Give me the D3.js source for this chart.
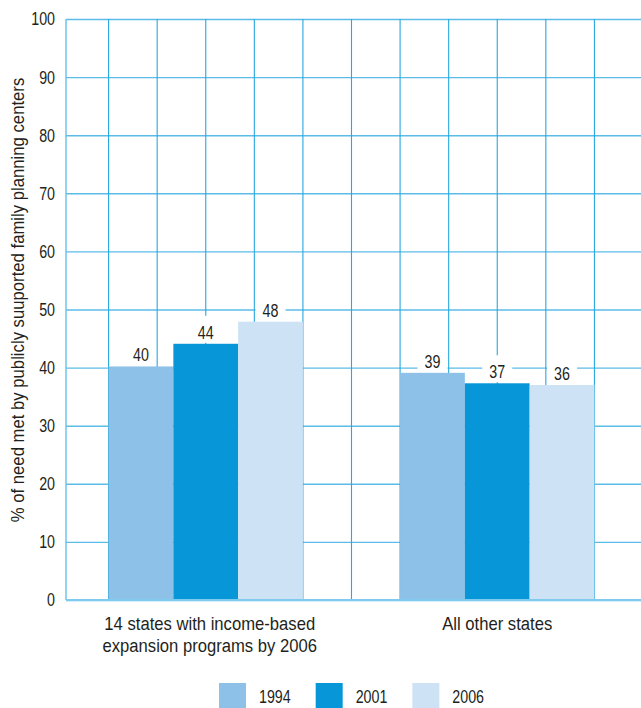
<!DOCTYPE html>
<html><head><meta charset="utf-8">
<script src="https://cdn.jsdelivr.net/npm/d3@7"></script>
<style>
body{margin:0;background:#fff}
svg{display:block}
text{font-family:"Liberation Sans Narrow","Arial Narrow","Liberation Sans",Arial,sans-serif;fill:#231f20}
</style>
</head><body>
<svg id="c" width="641" height="708"></svg>
<script>
// ---- data ----
const categories = ["14 states with income-based\nexpansion programs by 2006", "All other states"];
const years = ["1994", "2001", "2006"];
const values1994 = [40.2, 39.1];
const values2001 = [44.1, 37.3];
const values2006 = [47.9, 37.0];
const labels1994 = [40, 39];
const labels2001 = [44, 37];
const labels2006 = [48, 36];
const yTicks = [0, 10, 20, 30, 40, 50, 60, 70, 80, 90, 100];
const yTitle = "% of need met by publicly suuported family planning centers";
const colors = ["#8ec1e8", "#0796d8", "#cde2f5"];

const seriesValues = [values1994, values2001, values2006];
const seriesLabels = [labels1994, labels2001, labels2006];

// ---- layout ----
const left = 66, right = 641;
const DIGIT_SX = 0.77;   // horizontal condensing of the font
const svg = d3.select("#c");

function place(sel, x, yy, sx) {
  sel.attr("x", 0).attr("y", 0).attr("transform", `translate(${x},${yy}) scale(${sx},1)`);
  return sel;
}

const y = d3.scaleLinear().domain([0, 100]).range([600, 19]);
const x0 = d3.scaleBand().domain(categories).range([60, 643]).paddingInner(1/3).paddingOuter(1/6);
const x1 = d3.scaleBand().domain(years).range([0, x0.bandwidth()]);
const unit = x0.step() / 6;

// horizontal grid via axis
const yAxis = svg.append("g").attr("transform", `translate(${left},0)`)
  .call(d3.axisLeft(y).tickValues(yTicks).tickSize(-(right - left)).tickPadding(11).tickFormat(d3.format("d")));
yAxis.select(".domain").remove();
yAxis.selectAll(".tick line").attr("stroke", "#5cbce8").attr("stroke-width", 1.4);
yAxis.selectAll(".tick text")
  .style("font-size", "18.5px").attr("fill", "#231f20")
  .attr("x", -11 / DIGIT_SX).attr("transform", `scale(${DIGIT_SX},1)`);

// vertical grid lines
const gridIdx = d3.range(1, 12);
svg.append("g").selectAll("line").data(gridIdx).join("line")
  .attr("x1", k => 60 + k * unit).attr("x2", k => 60 + k * unit)
  .attr("y1", y(100)).attr("y2", y(0))
  .attr("stroke", "#27a8e0").attr("stroke-width", 1.1);

// left border
svg.append("line").attr("x1", left).attr("x2", left).attr("y1", y(100)).attr("y2", y(0))
  .attr("stroke", "#6cc5ee").attr("stroke-width", 1.5);

// bars
const flat = [];
categories.forEach((c, ci) => years.forEach((yr, si) => flat.push({c, ci, yr, si, v: seriesValues[si][ci], lab: seriesLabels[si][ci]})));

svg.append("g").selectAll("rect").data(flat).join("rect")
  .attr("x", d => x0(d.c) + x1(d.yr))
  .attr("width", x1.bandwidth())
  .attr("y", d => y(d.v))
  .attr("height", d => y(0) - y(d.v))
  .attr("fill", d => colors[d.si]);

// baseline
svg.append("line").attr("x1", left).attr("x2", right).attr("y1", y(0)).attr("y2", y(0))
  .attr("stroke", "#7fcbef").attr("stroke-width", 2);

// value labels with white boxes
const lg = svg.append("g");
lg.selectAll("rect").data(flat).join("rect")
  .attr("x", d => x0(d.c) + x1(d.yr) + x1.bandwidth() / 2 - 15)
  .attr("y", d => y(d.v) - 28)
  .attr("width", 30).attr("height", 27)
  .attr("fill", "#fff");
lg.selectAll("text").data(flat).join("text")
  .attr("text-anchor", "middle")
  .style("font-size", "18.5px")
  .text(d => d.lab)
  .each(function(d) {
    place(d3.select(this), x0(d.c) + x1(d.yr) + x1.bandwidth() / 2, y(d.v) - 5, DIGIT_SX);
  });

// category labels
const cg = svg.append("g");
categories.forEach((c, ci) => {
  const cx = x0(c) + x0.bandwidth() / 2 + (ci === 0 ? 4 : 0);
  c.split("\n").forEach((line, i) => {
    const t = cg.append("text").attr("text-anchor", "middle").style("font-size", "18.5px").text(line);
    place(t, cx, 630 + i * 22, 0.9);
  });
});

// y title (fitted to the reference length)
const tt = svg.append("text")
  .attr("text-anchor", "middle")
  .style("font-size", "19px")
  .text(yTitle);
const tl = tt.node().getComputedTextLength();
tt.attr("transform", `translate(24,300) rotate(-90) scale(${445 / tl},1)`);

// legend
const leg = svg.append("g");
let lx = 219;
years.forEach((yr, i) => {
  leg.append("rect").attr("x", lx).attr("y", 683).attr("width", 27).attr("height", 25).attr("fill", colors[i]);
  const t = leg.append("text").style("font-size", "18.5px").text(yr);
  place(t, lx + 40, 703, DIGIT_SX);
  lx = lx + 40 + t.node().getComputedTextLength() * DIGIT_SX + 25;
});
</script>
</body></html>
